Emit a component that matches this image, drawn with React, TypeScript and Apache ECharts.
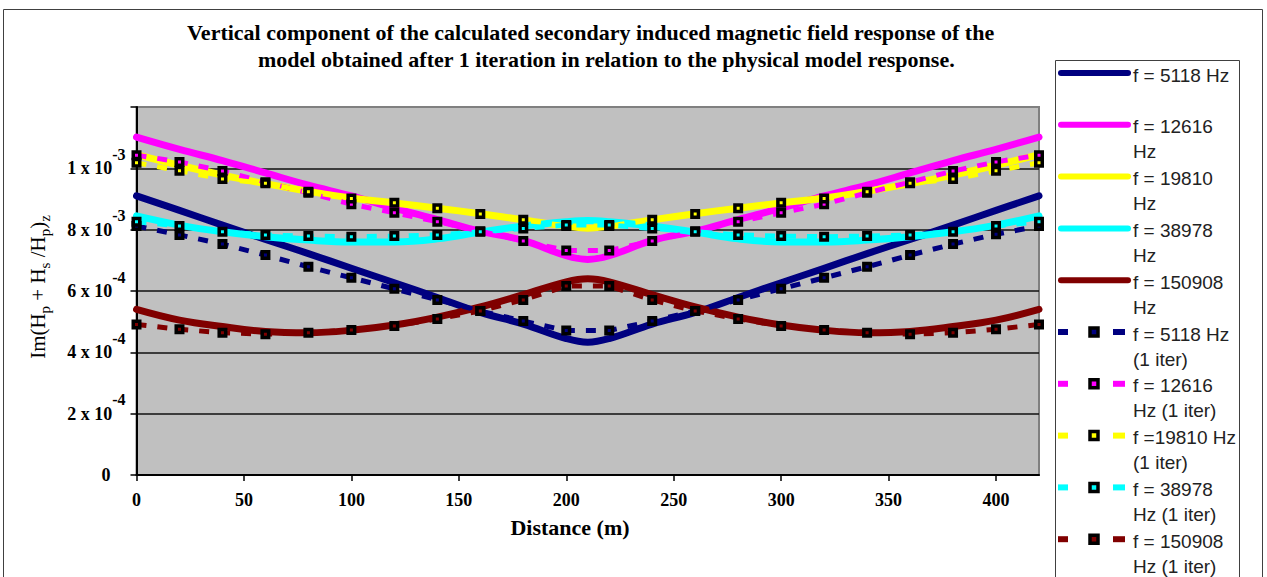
import React, { useEffect, useRef } from 'react';
import * as echarts from 'echarts';

// Distances along the profile (m). The calculated curves carry an extra
// sample at the centre of the profile, the 1-iteration results are every 20 m.
const distanceCurve = [0, 20, 40, 60, 80, 100, 120, 140, 160, 180, 200, 210, 220, 240, 260, 280, 300, 320, 340, 360, 380, 400, 420];
const distanceIter = [0, 20, 40, 60, 80, 100, 120, 140, 160, 180, 200, 220, 240, 260, 280, 300, 320, 340, 360, 380, 400, 420];

// Physical model response, Im(Hp + Hs/Hp)z
const curve5118 = [9.10e-4, 8.63e-4, 8.15e-4, 7.68e-4, 7.22e-4, 6.74e-4, 6.27e-4, 5.79e-4, 5.30e-4, 4.92e-4, 4.45e-4, 4.33e-4, 4.45e-4, 4.92e-4, 5.30e-4, 5.79e-4, 6.27e-4, 6.74e-4, 7.22e-4, 7.68e-4, 8.15e-4, 8.63e-4, 9.10e-4];
const curve12616 = [11.02e-4, 10.62e-4, 10.25e-4, 9.85e-4, 9.45e-4, 9.10e-4, 8.70e-4, 8.33e-4, 7.95e-4, 7.65e-4, 7.15e-4, 7.03e-4, 7.15e-4, 7.65e-4, 7.95e-4, 8.33e-4, 8.70e-4, 9.10e-4, 9.45e-4, 9.85e-4, 10.25e-4, 10.62e-4, 11.02e-4];
const curve19810 = [10.45e-4, 10.10e-4, 9.78e-4, 9.50e-4, 9.25e-4, 9.03e-4, 8.87e-4, 8.70e-4, 8.52e-4, 8.32e-4, 8.12e-4, 8.05e-4, 8.12e-4, 8.32e-4, 8.52e-4, 8.70e-4, 8.87e-4, 9.03e-4, 9.25e-4, 9.50e-4, 9.78e-4, 10.10e-4, 10.45e-4];
const curve38978 = [8.45e-4, 8.15e-4, 7.93e-4, 7.77e-4, 7.66e-4, 7.60e-4, 7.60e-4, 7.70e-4, 7.92e-4, 8.12e-4, 8.26e-4, 8.30e-4, 8.26e-4, 8.12e-4, 7.92e-4, 7.70e-4, 7.60e-4, 7.60e-4, 7.66e-4, 7.77e-4, 7.93e-4, 8.15e-4, 8.45e-4];
const curve150908 = [5.40e-4, 5.05e-4, 4.84e-4, 4.68e-4, 4.64e-4, 4.72e-4, 4.89e-4, 5.15e-4, 5.48e-4, 5.88e-4, 6.30e-4, 6.40e-4, 6.30e-4, 5.88e-4, 5.48e-4, 5.15e-4, 4.89e-4, 4.72e-4, 4.64e-4, 4.68e-4, 4.84e-4, 5.05e-4, 5.40e-4];

// Model response after 1 iteration
const iter5118 = [8.12e-4, 7.83e-4, 7.53e-4, 7.17e-4, 6.79e-4, 6.43e-4, 6.07e-4, 5.71e-4, 5.35e-4, 5.02e-4, 4.71e-4, 4.71e-4, 5.02e-4, 5.35e-4, 5.71e-4, 6.07e-4, 6.43e-4, 6.79e-4, 7.17e-4, 7.53e-4, 7.85e-4, 8.12e-4];
const iter12616 = [10.43e-4, 10.21e-4, 9.91e-4, 9.55e-4, 9.20e-4, 8.83e-4, 8.55e-4, 8.26e-4, 7.95e-4, 7.63e-4, 7.32e-4, 7.32e-4, 7.63e-4, 7.95e-4, 8.26e-4, 8.55e-4, 8.83e-4, 9.20e-4, 9.55e-4, 9.91e-4, 10.21e-4, 10.43e-4];
const iter19810 = [10.18e-4, 9.92e-4, 9.65e-4, 9.51e-4, 9.24e-4, 9.02e-4, 8.88e-4, 8.70e-4, 8.51e-4, 8.32e-4, 8.12e-4, 8.12e-4, 8.32e-4, 8.51e-4, 8.70e-4, 8.88e-4, 9.02e-4, 9.24e-4, 9.51e-4, 9.65e-4, 9.92e-4, 10.18e-4];
const iter38978 = [8.26e-4, 8.12e-4, 7.93e-4, 7.83e-4, 7.79e-4, 7.77e-4, 7.79e-4, 7.83e-4, 7.93e-4, 8.04e-4, 8.15e-4, 8.15e-4, 8.04e-4, 7.93e-4, 7.83e-4, 7.79e-4, 7.77e-4, 7.79e-4, 7.83e-4, 7.93e-4, 8.12e-4, 8.26e-4];
const iter150908 = [4.91e-4, 4.75e-4, 4.64e-4, 4.59e-4, 4.64e-4, 4.73e-4, 4.86e-4, 5.09e-4, 5.35e-4, 5.71e-4, 6.16e-4, 6.16e-4, 5.71e-4, 5.35e-4, 5.09e-4, 4.86e-4, 4.73e-4, 4.64e-4, 4.59e-4, 4.64e-4, 4.75e-4, 4.91e-4];

// Axis ticks and labels
const xTicks = [0, 50, 100, 150, 200, 250, 300, 350, 400];
const yTickMantissa = ['0', '2 x 10', '4 x 10', '6 x 10', '8 x 10', '1 x 10'];
const yTickExponent = ['', '-4', '-4', '-4', '-3', '-3'];

const titleLines = [
  'Vertical component of the calculated secondary induced magnetic field response of the',
  'model obtained after 1 iteration in relation to the physical model response.',
];

const SERIF = "'Liberation Serif', 'Times New Roman', serif";
const SANS = "'Liberation Sans', Arial, sans-serif";

const NAVY = '#000080';
const MAGENTA = '#FF00FF';
const YELLOW = '#FFFF00';
const CYAN = '#00FFFF';
const MAROON = '#800000';

const curveSeries = [
  { name: 'f = 5118 Hz', legend: 'f = 5118 Hz', color: NAVY, values: curve5118 },
  { name: 'f = 12616 Hz', legend: 'f = 12616\nHz', color: MAGENTA, values: curve12616 },
  { name: 'f = 19810 Hz', legend: 'f = 19810\nHz', color: YELLOW, values: curve19810 },
  { name: 'f = 38978 Hz', legend: 'f = 38978\nHz', color: CYAN, values: curve38978 },
  { name: 'f = 150908 Hz', legend: 'f = 150908\nHz', color: MAROON, values: curve150908 },
];

const iterSeries = [
  { name: 'f = 5118 Hz (1 iter)', legend: 'f = 5118 Hz\n(1 iter)', color: NAVY, values: iter5118 },
  { name: 'f = 12616 Hz (1 iter)', legend: 'f = 12616\nHz (1 iter)', color: MAGENTA, values: iter12616 },
  { name: 'f =19810 Hz (1 iter)', legend: 'f =19810 Hz\n(1 iter)', color: YELLOW, values: iter19810 },
  { name: 'f = 38978 Hz (1 iter)', legend: 'f = 38978\nHz (1 iter)', color: CYAN, values: iter38978 },
  { name: 'f = 150908 Hz (1 iter)', legend: 'f = 150908\nHz (1 iter)', color: MAROON, values: iter150908 },
];

function buildLegend(): any[] {
  const items: any[] = [];
  items.push({
    type: 'rect',
    z: 100,
    shape: { x: 1055.5, y: 60.5, width: 184, height: 600 },
    style: { fill: '#ffffff', stroke: '#404040', lineWidth: 1 },
  });
  const all = [...curveSeries.map((s) => ({ ...s, dashed: false })), ...iterSeries.map((s) => ({ ...s, dashed: true }))];
  all.forEach((s, i) => {
    const cy = 73 + i * 51.8;
    if (!s.dashed) {
      items.push({
        type: 'line',
        z: 101,
        shape: { x1: 1061, y1: cy, x2: 1128, y2: cy },
        style: { stroke: s.color, lineWidth: 6, lineCap: 'round' },
      });
    } else {
      items.push({ type: 'rect', z: 101, shape: { x: 1058, y: cy - 3, width: 10, height: 6 }, style: { fill: s.color } });
      items.push({ type: 'rect', z: 101, shape: { x: 1113, y: cy - 3, width: 12, height: 6 }, style: { fill: s.color } });
      items.push({
        type: 'rect',
        z: 102,
        shape: { x: 1090, y: cy - 4, width: 8, height: 8 },
        style: { fill: s.color, stroke: '#000', lineWidth: 3.5 },
      });
    }
    items.push({
      type: 'text',
      z: 101,
      x: 1133,
      y: cy - 10.5,
      style: {
        text: s.legend,
        fill: '#222',
        font: `19px ${SANS}`,
        fontSize: 19,
        fontFamily: SANS,
        lineHeight: 25,
        textVerticalAlign: 'top',
        verticalAlign: 'top',
        textAlign: 'left',
        align: 'left',
      },
    });
  });
  return items;
}

export default function App() {
  const ref = useRef<HTMLDivElement>(null);

  useEffect(() => {
    if (!ref.current) return;
    const chart = echarts.init(ref.current, undefined, { renderer: 'svg' });

    const series: any[] = [];
    curveSeries.forEach((s) => {
      series.push({
        name: s.name,
        type: 'line',
        data: distanceCurve.map((d, i) => [d, s.values[i]]),
        smooth: 0.4,
        showSymbol: false,
        symbol: 'none',
        lineStyle: { color: s.color, width: 7, cap: 'round', join: 'round' },
        itemStyle: { color: s.color },
      });
    });
    iterSeries.forEach((s) => {
      series.push({
        name: s.name,
        type: 'line',
        data: distanceIter.map((d, i) => [d, s.values[i]]),
        smooth: false,
        symbol: 'rect',
        symbolSize: 6.5,
        showSymbol: true,
        lineStyle: { color: s.color, width: 5, type: [10, 11] },
        itemStyle: { color: s.color, borderColor: '#000', borderWidth: 3.5 },
      });
    });

    const option: any = {
      animation: false,
      backgroundColor: '#ffffff',
      grid: {
        left: 136.5,
        top: 107,
        width: 902.5,
        height: 368,
        show: true,
        backgroundColor: '#C0C0C0',
        borderColor: '#808080',
        borderWidth: 2,
      },
      xAxis: {
        type: 'value',
        min: 0,
        max: 420,
        interval: 50,
        axisLine: { show: true, lineStyle: { color: '#000', width: 2 } },
        axisTick: { show: true, length: 6, customValues: xTicks, lineStyle: { color: '#000', width: 1.5 } },
        axisLabel: {
          customValues: xTicks,
          color: '#000',
          fontFamily: SERIF,
          fontWeight: 'bold',
          fontSize: 18,
          margin: 16,
        },
        splitLine: { show: false },
      },
      yAxis: {
        type: 'value',
        min: 0,
        max: 0.0012,
        interval: 0.0002,
        axisLine: { show: true, lineStyle: { color: '#000', width: 2 } },
        axisTick: { show: true, length: 6, lineStyle: { color: '#000', width: 1.5 } },
        axisLabel: {
          margin: 11,
          formatter: (v: number) => {
            const k = Math.round(v / 0.0002);
            if (k >= yTickMantissa.length) return '';
            if (!yTickExponent[k]) return `{b|${yTickMantissa[k]}}{gap| }`;
            return `{b|${yTickMantissa[k]}}{sup|${yTickExponent[k]}}`;
          },
          rich: {
            b: { fontFamily: SERIF, fontWeight: 'bold', fontSize: 18, lineHeight: 44, color: '#000' },
            sup: { fontFamily: SERIF, fontWeight: 'bold', fontSize: 16, lineHeight: 16, verticalAlign: 'top', color: '#000' },
            gap: { width: 15, fontSize: 18, lineHeight: 44 },
          },
        },
        splitLine: {
          show: true,
          showMinLine: false,
          showMaxLine: false,
          lineStyle: { color: '#111', width: 1.5 },
        },
      },
      series,
      graphic: [
        {
          type: 'rect',
          z: 90,
          shape: { x: 3.5, y: 9.5, width: 1259, height: 600 },
          style: { fill: 'none', stroke: '#404040', lineWidth: 1 },
          silent: true,
        },
        {
          type: 'text',
          z: 90,
          x: 187,
          y: 32,
          style: {
            text: titleLines[0],
            font: `bold 22px ${SERIF}`,
            fontSize: 22,
            fontWeight: 'bold',
            fontFamily: SERIF,
            fill: '#000',
            textAlign: 'left',
            align: 'left',
            textVerticalAlign: 'middle',
            verticalAlign: 'middle',
          },
        },
        {
          type: 'text',
          z: 90,
          x: 258,
          y: 59,
          style: {
            text: titleLines[1],
            font: `bold 22px ${SERIF}`,
            fontSize: 22,
            fontWeight: 'bold',
            fontFamily: SERIF,
            fill: '#000',
            textAlign: 'left',
            align: 'left',
            textVerticalAlign: 'middle',
            verticalAlign: 'middle',
          },
        },
        {
          type: 'text',
          z: 90,
          x: 570,
          y: 527,
          style: {
            text: 'Distance (m)',
            font: `bold 22px ${SERIF}`,
            fontSize: 22,
            fontWeight: 'bold',
            fontFamily: SERIF,
            fill: '#000',
            textAlign: 'center',
            align: 'center',
            textVerticalAlign: 'middle',
            verticalAlign: 'middle',
          },
        },
        {
          type: 'text',
          z: 90,
          x: 38,
          y: 287,
          rotation: Math.PI / 2,
          style: {
            text: 'Im(H{sub|p} + H{sub|s} /H{sub|p}){sub|z}',
            fontSize: 21,
            fontFamily: SERIF,
            fill: '#000',
            textAlign: 'center',
            align: 'center',
            textVerticalAlign: 'middle',
            verticalAlign: 'middle',
            rich: {
              sub: { fontSize: 15, fontFamily: SERIF, lineHeight: 16, verticalAlign: 'bottom', fill: '#000' },
            },
            lineHeight: 28,
          },
        },
        ...buildLegend(),
      ],
    };

    chart.setOption(option);
    return () => {
      chart.dispose();
    };
  }, []);

  return (
    <div
      ref={ref}
      style={{ position: 'absolute', left: 0, top: 0, width: 1267, height: 577, background: '#fff' }}
    />
  );
}
